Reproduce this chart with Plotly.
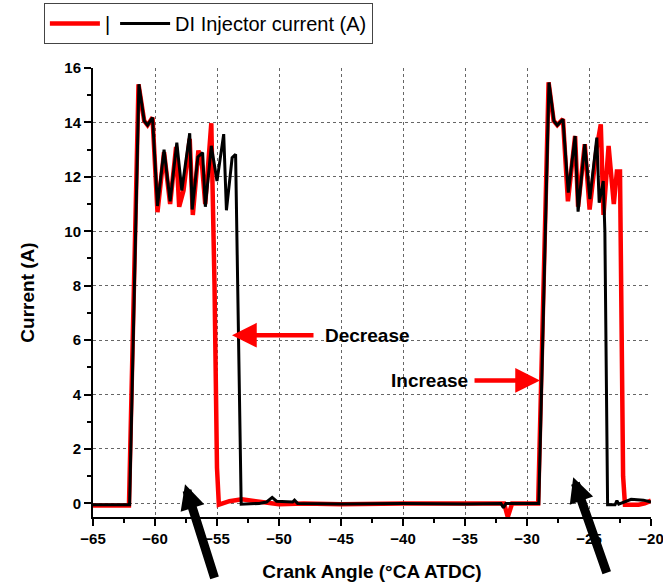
import plotly.graph_objects as go

# ---- data ----
black_x = [-65, -62.05, -61.3, -60.87, -60.6, -60.2, -59.8, -59.27, -58.78, -58.24, -57.84,
           -57.2, -57.0, -56.54, -56.16, -55.94, -55.46, -55.0, -54.46, -54.24, -53.78, -53.5,
           -53.05, -51.6, -51.0, -50.55, -50.2, -49.5, -48.9, -48.75, -48.5, -45, -40, -35,
           -32.1, -31.9, -31.7, -29.05, -28.23, -27.83, -27.56, -27.1, -26.67, -26.12, -25.88,
           -25.34, -24.93, -24.37, -24.18, -23.85, -23.72, -23.5, -22.9, -22.75, -22.6, -21.6,
           -20.6, -20]
black_y = [-0.05, -0.05, 15.4, 14.06, 13.9, 14.18, 10.93, 13.0, 11.1, 13.26, 11.5,
           13.6, 10.8, 12.73, 12.89, 10.9, 13.14, 11.85, 13.57, 10.77, 12.7, 12.83,
           -0.03, 0.0, 0.05, 0.22, 0.08, 0.05, 0.05, 0.12, 0.0, -0.02, 0.0, -0.02,
           0.0, -0.16, 0.0, 0.0, 15.47, 14.06, 13.9, 14.12, 11.42, 13.5, 10.72,
           13.2, 11.18, 13.44, 11.05, 11.85, 10.0, -0.05, -0.05, 0.1, -0.03, 0.15,
           0.12, 0.05]

red_x = [-65, -62.1, -61.33, -60.87, -60.6, -60.2, -59.8, -59.27, -58.78, -58.3, -58.05,
         -57.7, -57.2, -56.95, -56.5, -56.2, -55.95, -55.46, -55.2, -55.0, -54.85, -54.0,
         -53.0, -52.0, -51.0, -50.0, -48.0, -45, -40, -35, -31.85, -31.55, -31.2, -29.1,
         -28.26, -27.85, -27.56, -27.1, -26.7, -26.12, -25.88, -25.34, -24.95, -24.4, -24.05,
         -23.83, -23.42, -23.0, -22.75, -22.5, -22.35, -22.25, -22.1, -21.0, -20.5, -20]
red_y = [-0.08, -0.08, 15.4, 14.06, 13.9, 14.18, 10.7, 12.9, 11.0, 13.1, 10.9,
         11.5, 13.4, 10.6, 12.97, 12.4, 11.0, 13.97, 8.0, 1.3, -0.05, 0.08,
         0.15, 0.1, 0.02, -0.03, 0.0, -0.03, 0.0, -0.02, 0.0, -0.5, 0.0, 0.0,
         15.47, 14.06, 13.9, 14.12, 11.1, 13.5, 10.9, 13.2, 10.8, 13.0, 13.93,
         10.6, 13.14, 11.0, 12.2, 12.2, 6.0, 1.0, -0.05, -0.05, 0.0, 0.1]

x_ticks = [-65, -60, -55, -50, -45, -40, -35, -30, -25, -20]
y_ticks = [0, 2, 4, 6, 8, 10, 12, 14, 16]

FONT = "Liberation Sans, Arial, sans-serif"

fig = go.Figure()
fig.add_trace(go.Scatter(x=red_x, y=red_y, mode="lines", name="|",
                         line=dict(color="#ff0000", width=4.5)))
fig.add_trace(go.Scatter(x=black_x, y=black_y, mode="lines", name="DI Injector current (A)",
                         line=dict(color="black", width=3)))

axis_common = dict(
    showline=True, linecolor="black", linewidth=2,
    ticks="outside", ticklen=7, tickwidth=2, tickcolor="black",
    showgrid=True, gridcolor="#666", griddash="dot", gridwidth=1,
    zeroline=False, ticklabeloverflow="allow", automargin=False,
    tickfont=dict(family=FONT, size=15, color="black", weight="bold"),
)

fig.update_xaxes(range=[-65, -20], tickvals=x_ticks,
                 minor=dict(dtick=2.5, tick0=-65, ticks="outside", ticklen=4, tickwidth=1.5,
                            tickcolor="black", showgrid=False),
                 title=dict(text="Crank Angle (°CA ATDC)", standoff=19,
                            font=dict(family=FONT, size=19, color="black", weight="bold")),
                 **axis_common)
fig.update_yaxes(range=[-0.5, 16], tickvals=y_ticks,
                 minor=dict(dtick=1, tick0=0, ticks="outside", ticklen=4, tickwidth=1.5,
                            tickcolor="black", showgrid=False),
                 title=dict(text="Current (A)", standoff=25,
                            font=dict(family=FONT, size=19, color="black", weight="bold")),
                 **axis_common)

ann_font = dict(family=FONT, size=19, color="black", weight="bold")
annotations = [
    dict(x=-42.9, y=6.18, text="Decrease", showarrow=False, font=ann_font),
    dict(x=-53.79, y=6.18, ax=83, ay=0, text="", showarrow=True, arrowhead=2,
         arrowsize=1.1, arrowwidth=4.5, arrowcolor="#ff0000"),
    dict(x=-37.9, y=4.52, text="Increase", showarrow=False, font=ann_font),
    dict(x=-28.95, y=4.52, ax=-67, ay=0, text="", showarrow=True, arrowhead=2,
         arrowsize=1.1, arrowwidth=4.5, arrowcolor="#ff0000"),
    dict(x=-57.58, y=0.70, ax=30, ay=95, text="", showarrow=True, arrowhead=2,
         arrowsize=0.55, arrowwidth=9, arrowcolor="black"),
    dict(x=-26.27, y=0.96, ax=34, ay=97, text="", showarrow=True, arrowhead=2,
         arrowsize=0.55, arrowwidth=9, arrowcolor="black"),
]

fig.update_layout(
    width=663, height=586,
    margin=dict(l=93, r=12, t=68, b=69, autoexpand=False),
    plot_bgcolor="white", paper_bgcolor="white",
    showlegend=True,
    legend=dict(orientation="h", x=-0.088, y=1.145, xanchor="left", yanchor="top",
                bordercolor="#444", borderwidth=1, bgcolor="white",
                font=dict(family=FONT, size=20, color="black"),
                itemwidth=50, tracegroupgap=0),
    annotations=annotations,
    font=dict(family=FONT, color="black"),
)

fig.write_html("out.html")
